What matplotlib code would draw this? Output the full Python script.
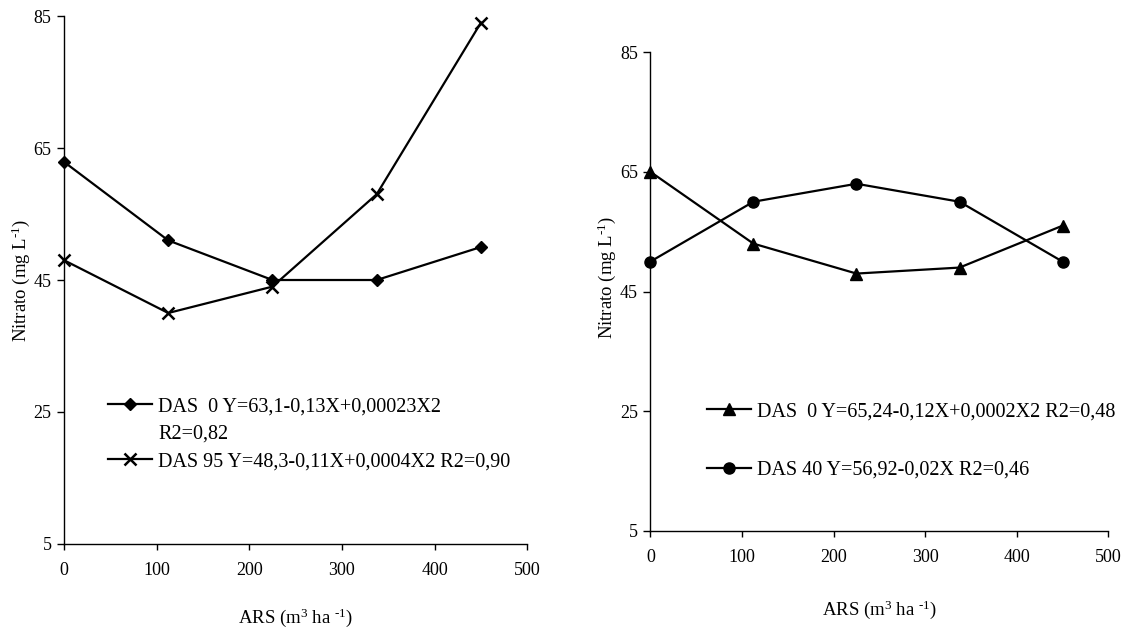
import matplotlib.pyplot as plt
from matplotlib.lines import Line2D

plt.rcParams['font.family'] = ['Liberation Serif', 'DejaVu Serif']
plt.rcParams['font.size'] = 13
plt.rcParams['mathtext.fontset'] = 'custom'
plt.rcParams['mathtext.rm'] = 'Liberation Serif'
plt.rcParams['mathtext.it'] = 'Liberation Serif:italic'
plt.rcParams['mathtext.bf'] = 'Liberation Serif:bold'

# doses de ARS (m3/ha)
ars = [0, 112.5, 225, 337.5, 450]

# primeiro grafico
das0_a = [62.9, 51.0, 45.0, 45.0, 50.0]
das95 = [48.0, 40.0, 44.0, 58.0, 84.0]
# segundo grafico
das0_b = [65.0, 53.0, 48.0, 49.0, 56.0]
das40 = [50.0, 60.0, 63.0, 60.0, 50.0]

lab_das0_a = 'DAS  0 Y=63,1-0,13X+0,00023X2'
lab_r2_a = 'R2=0,82'
lab_das95 = 'DAS 95 Y=48,3-0,11X+0,0004X2 R2=0,90'
lab_das0_b = 'DAS  0 Y=65,24-0,12X+0,0002X2 R2=0,48'
lab_das40 = 'DAS 40 Y=56,92-0,02X R2=0,46'

yticks = [5, 25, 45, 65, 85]
xticks = [0, 100, 200, 300, 400, 500]

xlab = r'ARS (m$^{3}$ ha $^{\text{-1}}$)'
ylab = r'Nitrato (mg L$^{\text{-1}}$)'


def estilo(ax):
    ax.set_xlim(0, 500)
    ax.set_ylim(5, 85)
    ax.set_xticks(xticks)
    ax.set_yticks(yticks)
    for s in ['top', 'right']:
        ax.spines[s].set_visible(False)
    for s in ['left', 'bottom']:
        ax.spines[s].set_linewidth(1.0)
    ax.tick_params(axis='x', direction='out', length=4, width=1, pad=9)
    ax.tick_params(axis='y', direction='out', length=5, width=1, pad=4)
    ax.set_xlabel(xlab, fontsize=13.5)
    ax.set_ylabel(ylab, fontsize=13.5)


fig = plt.figure(figsize=(11.45, 6.31), dpi=100)
ax1 = fig.add_axes([0.0559, 0.1379, 0.4046, 0.8367])
ax2 = fig.add_axes([0.568, 0.1585, 0.400, 0.759])

lk = dict(color='black', linewidth=1.6, clip_on=False)

l1, = ax1.plot(ars, das0_a, marker='D', markersize=6, **lk)
l2, = ax1.plot(ars, das95, marker='x', markersize=9, markeredgewidth=1.8, **lk)
vazio = Line2D([], [], linestyle='none')
estilo(ax1)
ax1.xaxis.set_label_coords(0.5, -0.118)
ax1.yaxis.set_label_coords(-0.069, 0.5)
ax1.legend([l1, vazio, l2], [lab_das0_a, lab_r2_a, lab_das95],
           loc='upper left', bbox_to_anchor=(0.095, 0.278), frameon=False,
           fontsize=14.5, handlelength=2.2, handletextpad=0.3,
           labelspacing=0.42, borderaxespad=0, borderpad=0)

l3, = ax2.plot(ars, das0_b, marker='^', markersize=8, **lk)
l4, = ax2.plot(ars, das40, marker='o', markersize=8, **lk)
estilo(ax2)
ax2.xaxis.set_label_coords(0.5, -0.14)
ax2.yaxis.set_label_coords(-0.071, 0.53)
ax2.legend([l3, l4], [lab_das0_b, lab_das40],
           loc='upper left', bbox_to_anchor=(0.124, 0.269), frameon=False,
           fontsize=14.5, handlelength=2.2, handletextpad=0.3,
           labelspacing=1.95, borderaxespad=0, borderpad=0)

fig.savefig('out.png', dpi=100)
